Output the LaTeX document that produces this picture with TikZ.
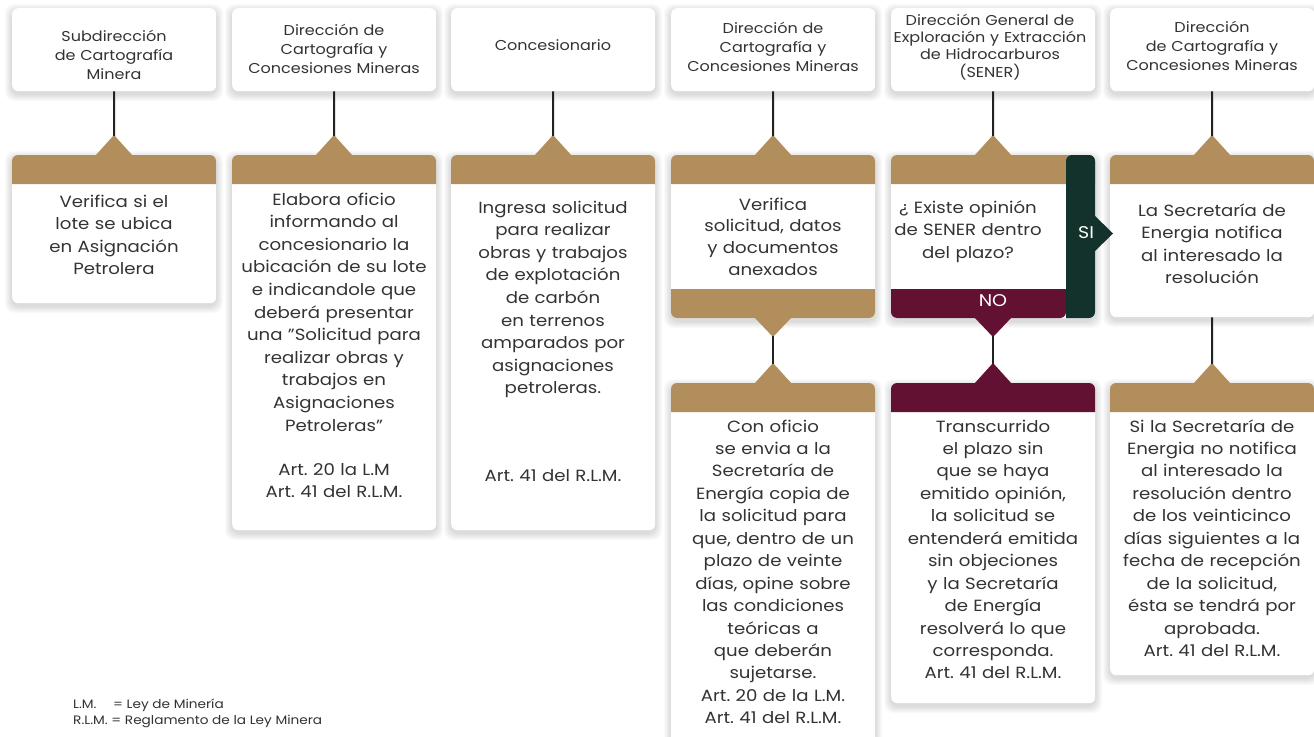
\documentclass[tikz,border=0pt]{standalone}
\usepackage{fontspec}
\setmainfont{Poppins}[FakeStretch=1.12]
\frenchspacing
\definecolor{brn}{HTML}{B38E5D}
\definecolor{mar}{HTML}{621132}
\definecolor{grn}{HTML}{13322B}
\definecolor{txt}{HTML}{333333}
\definecolor{lin}{HTML}{222222}
\newcommand\softshadow[4]{%
  \foreach \s in {1,...,7}{\fill[black,opacity=0.02,rounded corners=9pt] (#1-\s,#2-\s+3) rectangle (#3+\s,#4+\s+3);}}
\newcommand\whitebox[4]{% name, x, top, bottom
  \softshadow{#2}{#3}{#2+204}{#4}
  \node[wbox, minimum width=204pt, minimum height={(#4-#3)*1pt}] (#1) at (#2,#3) {};}
\newcommand\bandtop[3]{%
  \fill[#3] (#1,#2+29) [rounded corners=6pt] -- (#1,#2) -- (#1+204,#2) [sharp corners] -- (#1+204,#2+29) -- cycle;}
\newcommand\uptri[3]{% center x, apex y, color
  \fill[#3] (#1-19,#2+21) -- (#1,#2) -- (#1+19,#2+21) -- cycle;}
\newcommand\downtri[3]{% center x, base y, color
  \fill[#3] (#1-19,#2-1) -- (#1,#2+19) -- (#1+19,#2-1) -- cycle;}
\begin{document}
\begin{tikzpicture}[x=1pt,y=-1pt,
  wbox/.style={fill=white, rounded corners=6pt, inner sep=0pt, anchor=north west},
  conn/.style={draw=lin, line width=2pt},
  body/.style={font=\fontsize{16.2}{22.6}\selectfont, text=txt, align=center, inner sep=0pt, anchor=base, text width=204pt},
  head/.style={font=\fontsize{14.3}{19.2}\selectfont, text=txt, align=center, inner sep=0pt, anchor=base, text width=220pt},
  foot/.style={font=\fontsize{12.2}{16}\selectfont, text=txt, align=left, inner sep=0pt, anchor=base west},
  lab/.style={font=\fontsize{17}{20}\selectfont, text=white, inner sep=0pt}]
\useasboundingbox (0,0) rectangle (1314,736);
\clip (0,0) rectangle (1314,736);
\fill[white] (0,0) rectangle (1314,736);
% headers
\whitebox{h1}{12}{8}{91}
\whitebox{h2}{232}{8}{91}
\whitebox{h3}{451}{8}{91}
\whitebox{h4}{671}{8}{91}
\whitebox{h5}{891}{8}{91}
\whitebox{h6}{1110}{8}{91}
\node[head] (ht1) at (114,41) {Subdirección\\de Cartografía\\Minera};
\node[head] (ht2) at (334,35) {Dirección de\\Cartografía y\\Concesiones Mineras};
\node[head] (ht3) at (553,50) {Concesionario};
\node[head] (ht4) at (773,33) {Dirección de\\Cartografía y\\Concesiones Mineras};
\node[head, font=\fontsize{14.3}{17.4}\selectfont] (ht5) at (990,25) {Dirección General de\\Exploración y Extracción\\de Hidrocarburos\\(SENER)};
\node[head] (ht6) at (1212,32) {Dirección\\de Cartografía y\\Concesiones Mineras};
% upper process boxes
\whitebox{p1}{12}{155}{303}
\whitebox{p2}{232}{155}{530}
\whitebox{p3}{451}{155}{530}
\whitebox{p4}{671}{155}{318}
\whitebox{p5}{891}{155}{318}
\whitebox{p6}{1110}{155}{317}
\bandtop{12}{155}{brn}
\bandtop{232}{155}{brn}
\bandtop{451}{155}{brn}
\bandtop{671}{155}{brn}
\bandtop{891}{155}{brn}
\bandtop{1110}{155}{brn}
% bottom band of p4
\fill[brn] (671,289) [sharp corners] -- (875,289) [rounded corners=6pt] -- (875,318) -- (671,318) [sharp corners] -- cycle;
% decision extras p5
\fill[mar] (1066,289) [rounded corners=6pt] -- (1066,318) -- (891,318) [sharp corners] -- (891,289) -- cycle;
\fill[grn] (1066,318) [rounded corners=6pt] -- (1066,155) -- (1095,155) -- (1095,318) [sharp corners] -- cycle;
\fill[grn] (1094,215) -- (1113,233.5) -- (1094,252) -- cycle;
\node[lab] (si) at (1086,233) {SI};
\node[lab] (no) at (993,301) {NO};
% top triangles
\uptri{114}{135}{brn}
\uptri{334}{135}{brn}
\uptri{553}{135}{brn}
\uptri{773}{135}{brn}
\uptri{993}{135}{brn}
\uptri{1212}{135}{brn}
\coordinate (t1) at (114,136);
\coordinate (t2) at (334,136);
\coordinate (t3) at (553,136);
\coordinate (t4) at (773,136);
\coordinate (t5) at (993,136);
\coordinate (t6) at (1212,136);
\draw[conn] (h1.south) -- (t1);
\draw[conn] (h2.south) -- (t2);
\draw[conn] (h3.south) -- (t3);
\draw[conn] (h4.south) -- (t4);
\draw[conn] (h5.south) -- (t5);
\draw[conn] (h6.south) -- (t6);
% lower boxes
\whitebox{q4}{671}{383}{760}
\whitebox{q5}{891}{383}{703}
\whitebox{q6}{1110}{383}{675}
\bandtop{671}{383}{brn}
\bandtop{891}{383}{mar}
\bandtop{1110}{383}{brn}
\downtri{773}{318}{brn}
\downtri{993}{318}{mar}
\uptri{773}{363}{brn}
\uptri{993}{363}{mar}
\uptri{1212}{363}{brn}
\coordinate (d4) at (773,336);
\coordinate (d5) at (993,336);
\coordinate (u4) at (773,364);
\coordinate (u5) at (993,364);
\coordinate (u6) at (1212,364);
\draw[conn] (d4) -- (u4);
\draw[conn] (d5) -- (u5);
\draw[conn] (p6.south) -- (u6);
% body texts
\node[body] (b1) at (114,207) {Verifica si el\\lote se ubica\\en Asignación\\Petrolera};
\node[body] (b2) at (334,205) {Elabora oficio\\informando al\\concesionario la\\ubicación de su lote\\e indicandole que\\deberá presentar\\una "Solicitud para\\realizar obras y\\trabajos en\\Asignaciones\\Petroleras"\\[21.5pt]Art. 20 la L.M\\Art. 41 del R.L.M.};
\node[body] (b3) at (553,213) {Ingresa solicitud\\para realizar\\obras y trabajos\\de explotación\\de carbón\\en terrenos\\amparados por\\asignaciones\\petroleras.\\[65.5pt]Art. 41 del R.L.M.};
\node[body, font=\fontsize{16.2}{21.7}\selectfont] (b4) at (773,210) {Verifica\\solicitud, datos\\y documentos\\anexados};
\node[body, text width=175pt] (b5) at (968,213) {¿ Existe opinión\\de SENER dentro\\del plazo?};
\node[body] (b6) at (1212,216) {La Secretaría de\\Energia notifica\\al interesado la\\resolución};
\node[body, font=\fontsize{16.2}{22.45}\selectfont] (c4) at (773,432) {Con oficio\\se envia a la\\Secretaría de\\Energía copia de\\la solicitud para\\que, dentro de un\\plazo de veinte\\días, opine sobre\\las condiciones\\teóricas a\\que deberán\\sujetarse.\\Art. 20 de la L.M.\\Art. 41 del R.L.M.};
\node[body, font=\fontsize{16.2}{22.45}\selectfont] (c5) at (993,432) {Transcurrido\\el plazo sin\\que se haya\\emitido opinión,\\la solicitud se\\entenderá emitida\\sin objeciones\\y la Secretaría\\de Energía\\resolverá lo que\\corresponda.\\Art. 41 del R.L.M.};
\node[body, font=\fontsize{16.2}{22.45}\selectfont] (c6) at (1212,432) {Si la Secretaría de\\Energia no notifica\\al interesado la\\resolución dentro\\de los veinticinco\\días siguientes a la\\fecha de recepción\\de la solicitud,\\ésta se tendrá por\\aprobada.\\Art. 41 del R.L.M.};
% footnote
\node[foot] (f1) at (73,708) {\makebox[40pt][l]{L.M.}= Ley de Minería};
\node[foot] (f2) at (73,724) {R.L.M. = Reglamento de la Ley Minera};
\end{tikzpicture}
\end{document}
